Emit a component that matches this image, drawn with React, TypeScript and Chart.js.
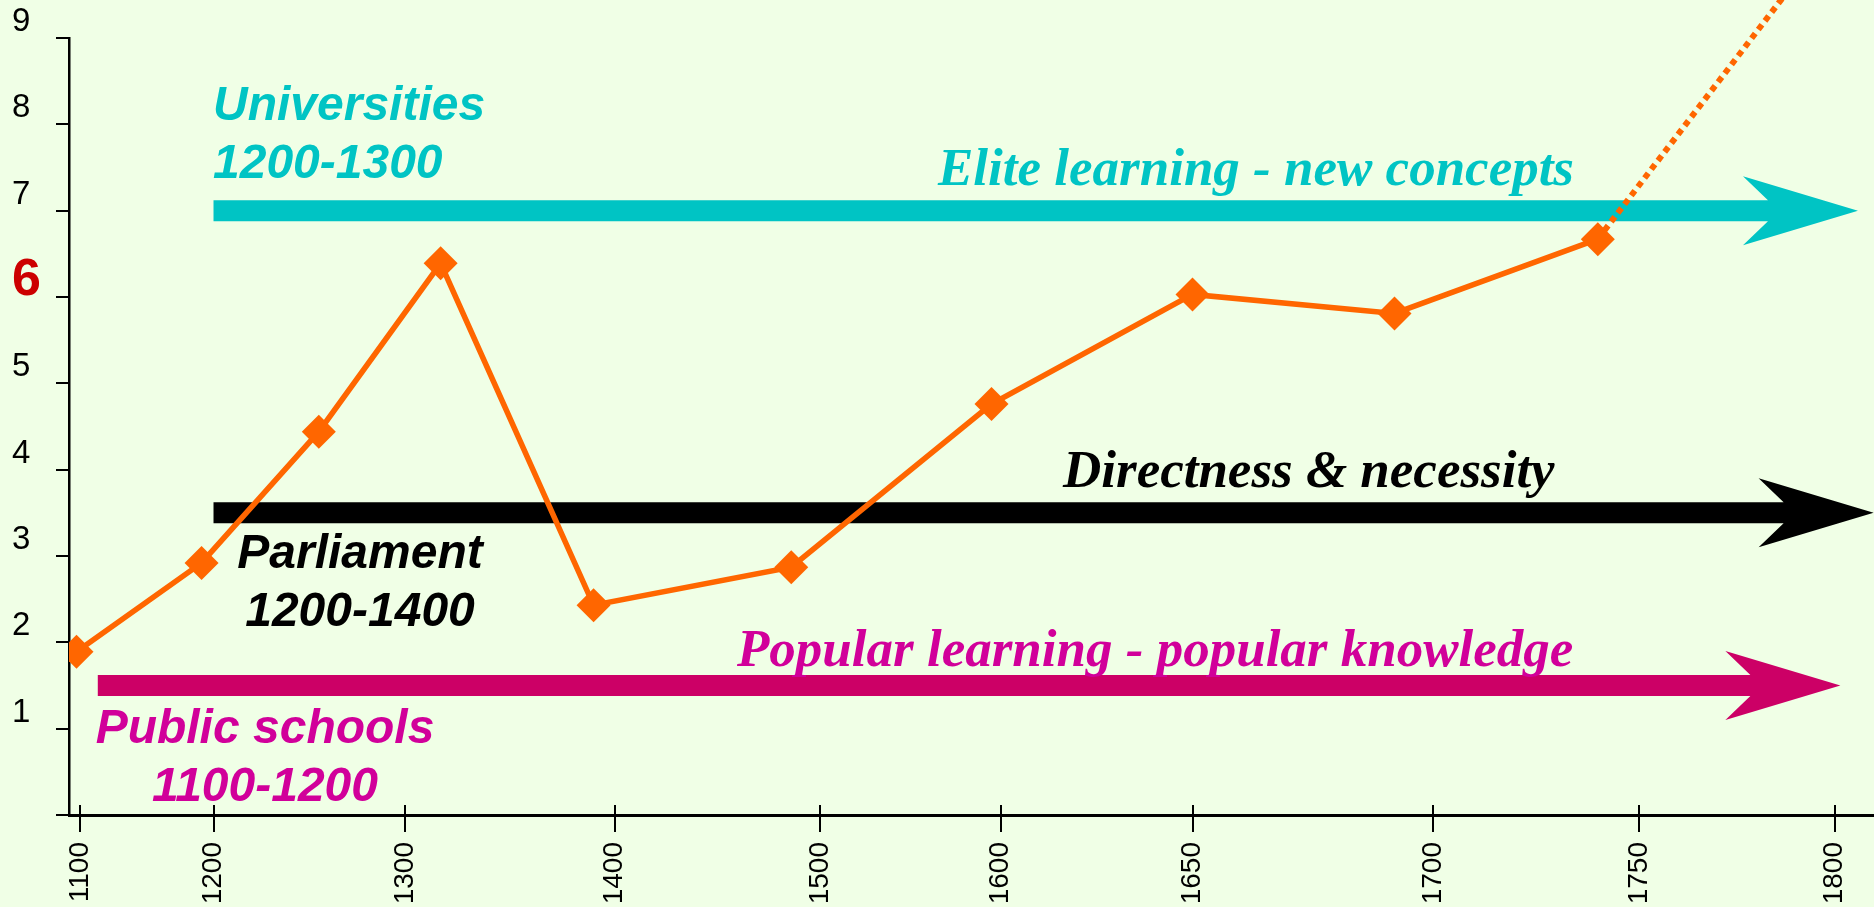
import { useEffect, useRef } from 'react';
import { Chart, registerables, LinearScale } from 'chart.js';

Chart.register(...registerables);

// ---- data ----
const xTickYears = [1100, 1200, 1300, 1400, 1500, 1600, 1650, 1700, 1750, 1800];
const xTickLabels = ['1100', '1200', '1300', '1400', '1500', '1600', '1650', '1700', '1750', '1800'];
const yTickLabels = ['', '1', '2', '3', '4', '5', '6', '7', '8', '9'];
const pointYears = [1097, 1191, 1255, 1317, 1390, 1486, 1595, 1650, 1692, 1740];
const pointValues = [1.89, 2.92, 4.44, 6.39, 2.43, 2.87, 4.76, 6.03, 5.81, 6.67];
const trendYears = [1740, 1789];
const trendValues = [6.67, 9.6];

// arrows (years / levels on the chart's scales)
const arrowStartYears = [1200, 1200, 1113];
const arrowEndYears = [1806, 1810, 1801.5];
const arrowLevels = [7, 3.5, 1.5];
const arrowColors = ['#00C4C4', '#000000', '#CC0066'];

// irregular spacing of the year axis (fraction of plot width where each tick year sits)
const xTickFractions = [0.00637, 0.08006, 0.18615, 0.30222, 0.41607, 0.51607, 0.62244, 0.75568, 0.86981, 0.97812];

const BG = '#F0FFE6';
const ORANGE = '#FF6600';
const CYAN = '#00C4C4';
const MAGENTA_TEXT = '#D1009A';

function yearToFraction(v: number) {
  const n = xTickYears.length;
  let i = 0;
  while (i < n - 2 && v > xTickYears[i + 1]) i++;
  const t = (v - xTickYears[i]) / (xTickYears[i + 1] - xTickYears[i]);
  return xTickFractions[i] + t * (xTickFractions[i + 1] - xTickFractions[i]);
}
function fractionToYear(f: number) {
  const n = xTickFractions.length;
  let i = 0;
  while (i < n - 2 && f > xTickFractions[i + 1]) i++;
  const t = (f - xTickFractions[i]) / (xTickFractions[i + 1] - xTickFractions[i]);
  return xTickYears[i] + t * (xTickYears[i + 1] - xTickYears[i]);
}

class PiecewiseScale extends LinearScale {
  static id = 'piecewise';
  static defaults = { ...(LinearScale as any).defaults };
  buildTicks() {
    return xTickYears.map((v) => ({ value: v }));
  }
  getPixelForValue(value: number) {
    if (value === null || value === undefined || isNaN(value)) return NaN;
    return (this as any).getPixelForDecimal(yearToFraction(value));
  }
  getValueForPixel(pixel: number) {
    return fractionToYear((this as any).getDecimalForPixel(pixel));
  }
}
Chart.register(PiecewiseScale as any);

type Note = { lines: string[]; x: number; y: number; align: CanvasTextAlign; font: string; color: string; lh: number };
const SANS = 'italic bold 48px "Liberation Sans", Arial, sans-serif';
const SERIF = 'italic bold 53px "Liberation Serif", "Times New Roman", serif';
const notes: Note[] = [
  { lines: ['Universities', '1200-1300'], x: 213, y: 120, align: 'left', font: SANS, color: CYAN, lh: 58 },
  { lines: ['Elite learning - new concepts'], x: 938, y: 185, align: 'left', font: SERIF, color: CYAN, lh: 0 },
  { lines: ['Directness & necessity'], x: 1063, y: 487, align: 'left', font: SERIF, color: '#000', lh: 0 },
  { lines: ['Parliament', '1200-1400'], x: 360, y: 568, align: 'center', font: SANS, color: '#000', lh: 58 },
  { lines: ['Popular learning - popular knowledge'], x: 737, y: 666, align: 'left', font: SERIF, color: MAGENTA_TEXT, lh: 0 },
  { lines: ['Public schools', '1100-1200'], x: 265, y: 743, align: 'center', font: SANS, color: MAGENTA_TEXT, lh: 58 },
];

const bgPlugin = {
  id: 'bg',
  beforeDraw(chart: any) {
    const ctx = chart.ctx;
    ctx.save();
    ctx.fillStyle = BG;
    ctx.fillRect(0, 0, chart.width, chart.height);
    ctx.restore();
  },
};

const annotationPlugin = {
  id: 'annot',
  beforeDatasetsDraw(chart: any) {
    const ctx = chart.ctx;
    const xs = chart.scales.x;
    const ys = chart.scales.y;
    ctx.save();
    // arrows
    const shaft = 21, headH = 69, headL = 115, notch = 25;
    for (let i = 0; i < arrowLevels.length; i++) {
      const x0 = xs.getPixelForValue(arrowStartYears[i]);
      const tip = xs.getPixelForValue(arrowEndYears[i]);
      const y = ys.getPixelForValue(arrowLevels[i]);
      const back = tip - headL;
      const nx = back + notch;
      ctx.beginPath();
      ctx.moveTo(x0, y - shaft / 2);
      ctx.lineTo(nx, y - shaft / 2);
      ctx.lineTo(back, y - headH / 2);
      ctx.lineTo(tip, y);
      ctx.lineTo(back, y + headH / 2);
      ctx.lineTo(nx, y + shaft / 2);
      ctx.lineTo(x0, y + shaft / 2);
      ctx.closePath();
      ctx.fillStyle = arrowColors[i];
      ctx.fill();
    }
    // texts
    ctx.textBaseline = 'alphabetic';
    for (const n of notes) {
      ctx.font = n.font;
      ctx.fillStyle = n.color;
      ctx.textAlign = n.align;
      n.lines.forEach((line, k) => ctx.fillText(line, n.x, n.y + k * n.lh));
    }
    ctx.restore();
  },
  afterDraw(chart: any) {
    // upper half of the crossing x tick marks
    const ctx = chart.ctx;
    const xs = chart.scales.x;
    const bottom = chart.chartArea.bottom;
    ctx.save();
    ctx.strokeStyle = '#000';
    ctx.lineWidth = 2;
    ctx.beginPath();
    xs.ticks.forEach((_t: any, i: number) => {
      const px = Math.round(xs.getPixelForTick(i));
      ctx.moveTo(px, bottom - 10);
      ctx.lineTo(px, bottom);
    });
    ctx.stroke();
    ctx.restore();
  },
};

export default function App() {
  const ref = useRef<HTMLCanvasElement>(null);
  useEffect(() => {
    document.body.style.margin = '0';
    document.body.style.background = BG;
    const canvas = ref.current!;
    const chart = new Chart(canvas, {
      type: 'line',
      data: {
        datasets: [
          {
            data: pointYears.map((x, i) => ({ x, y: pointValues[i] })),
            borderColor: ORANGE,
            backgroundColor: ORANGE,
            borderWidth: 5.5,
            pointStyle: 'rectRot',
            pointRadius: 17,
            pointBackgroundColor: ORANGE,
            pointBorderColor: ORANGE,
            pointBorderWidth: 0,
            tension: 0,
          },
          {
            data: trendYears.map((x, i) => ({ x, y: trendValues[i] })),
            borderColor: ORANGE,
            borderWidth: 6,
            borderDash: [6, 5],
            borderCapStyle: 'butt',
            pointRadius: 0,
            tension: 0,
            clip: false as any,
          },
        ],
      },
      options: {
        animation: false,
        responsive: false,
        devicePixelRatio: 1,
        layout: { autoPadding: false, padding: { left: 12, top: 38, right: 0, bottom: 0 } },
        plugins: { legend: { display: false }, tooltip: { enabled: false } },
        scales: {
          x: {
            type: 'piecewise' as any,
            min: 1090,
            max: 1812,
            afterFit: (s: any) => { s.height = 92; s.paddingLeft = 0; s.paddingRight = 0; },
            border: { display: true, color: '#000', width: 3 },
            grid: { display: true, drawOnChartArea: false, drawTicks: true, tickLength: 17, color: '#000', lineWidth: 2 },
            ticks: {
              autoSkip: false,
              minRotation: 90,
              maxRotation: 90,
              padding: 10,
              color: '#000',
              font: { family: '"Liberation Sans", Arial, sans-serif', size: 28 },
              callback: (_v: any, i: number) => xTickLabels[i],
            },
          } as any,
          y: {
            type: 'linear',
            min: 0,
            max: 9,
            afterFit: (s: any) => { s.width = 57; s.paddingTop = 0; s.paddingBottom = 0; },
            border: { display: true, color: '#000', width: 2.5 },
            grid: { display: true, drawOnChartArea: false, drawTicks: true, tickLength: 13, color: '#000', lineWidth: 2 },
            ticks: {
              stepSize: 1,
              autoSkip: false,
              crossAlign: 'far',
              padding: 0,
              labelOffset: -16,
              callback: (v: any) => yTickLabels[Math.round(Number(v))] ?? '',
              color: (c: any) => (c.tick && c.tick.value === 6 ? '#CC0000' : '#000'),
              font: (c: any) =>
                c.tick && c.tick.value === 6
                  ? { family: '"Liberation Sans", Arial, sans-serif', size: 52, weight: 'bold' }
                  : { family: '"Liberation Sans", Arial, sans-serif', size: 33 },
            },
          } as any,
        },
      },
      plugins: [bgPlugin, annotationPlugin],
    });
    return () => chart.destroy();
  }, []);
  return (
    <div style={{ width: 1874, height: 907, background: BG }}>
      <canvas ref={ref} width={1874} height={907} style={{ display: 'block' }} />
    </div>
  );
}
